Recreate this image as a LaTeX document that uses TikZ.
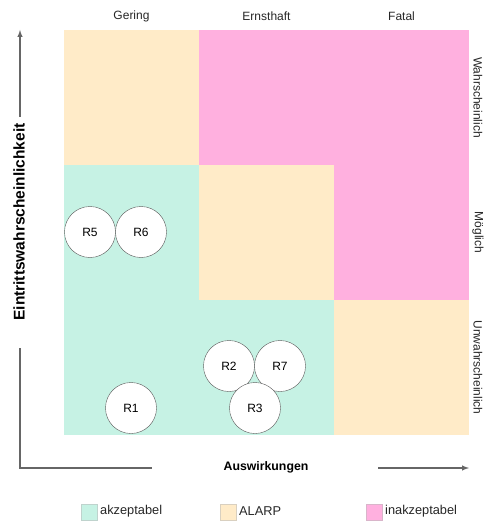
\documentclass[tikz,border=0pt]{standalone}
\usepackage{fontspec}
\setmainfont{Liberation Sans}
\definecolor{akzept}{HTML}{C6F2E4}
\definecolor{alarp}{HTML}{FFEBC8}
\definecolor{inakzept}{HTML}{FFB0DF}

\begin{document}
\begin{tikzpicture}[>=latex,x=1pt,y=-1pt,
    risk/.style={circle,draw=black!65,fill=white,minimum size=51pt,inner sep=0pt,font=\fontsize{12}{14}\selectfont},
    lbl/.style={font=\fontsize{12}{14}\selectfont,text=black!85},
    achse/.style={line width=1.4pt,draw=black!60}]
        \useasboundingbox (0,0) rectangle (486,521);

        % Felder der Matrix: Spalte/Zeile/Farbe
        \foreach \c/\r/\col in {0/0/alarp,1/0/inakzept,2/0/inakzept,
                                0/1/akzept,1/1/alarp,2/1/inakzept,
                                0/2/akzept,1/2/akzept,2/2/alarp}
        {
            \fill[\col] (64+135*\c,30+135*\r) rectangle ++(135,135);
        }

        \foreach \t [count=\i from 0] in {Gering,Ernsthaft,Fatal}
        {
            \node[lbl] (spalte\i) at (131.5+135*\i,16) {\t};
        }
        \foreach \t [count=\i from 0] in {Wahrscheinlich,Möglich,Unwahrscheinlich}
        {
            \node[lbl,rotate=-90] (zeile\i) at (478,97.5+135*\i) {\t};
        }

        \node[risk] (r5) at (90,232) {R5};
        \node[risk] (r6) at (141,232) {R6};
        \node[risk] (r2) at (229,366) {R2};
        \node[risk] (r7) at (280,366) {R7};
        \node[risk] (r3) at (255,408) {R3};
        \node[risk] (r1) at (131,408) {R1};

        % Achsen
        \coordinate (yfuss) at (20,117);
        \coordinate (yspitze) at (20,30);
        \coordinate (yanfang) at (20,348);
        \coordinate (ecke) at (20,468);
        \coordinate (xende) at (152,468);
        \coordinate (xfuss) at (378,468);
        \coordinate (xspitze) at (469,468);
        \draw[achse,->] (yfuss)--(yspitze);
        \draw[achse] (yanfang)--(ecke)--(xende);
        \draw[achse,->] (xfuss)--(xspitze);
        \node[font=\bfseries\fontsize{12.3}{14}\selectfont] (xlabel) at (266,467) {Auswirkungen};
        \node[font=\bfseries\fontsize{15.5}{18}\selectfont,rotate=90] (ylabel) at (19,222) {Eintrittswahrscheinlichkeit};

        % Legende
        \foreach \x/\col/\t [count=\i] in {81/akzept/akzeptabel,220/alarp/ALARP,366/inakzept/inakzeptabel}
        {
            \draw[draw=\col!75!black!60,fill=\col,line width=.6pt] (\x,504) rectangle ++(16,16);
            \node[anchor=west,inner sep=0pt,font=\fontsize{12.8}{15}\selectfont,text=black!85] (legende\i) at (\x+19,511) {\t};
        }

\end{tikzpicture}
\end{document}
